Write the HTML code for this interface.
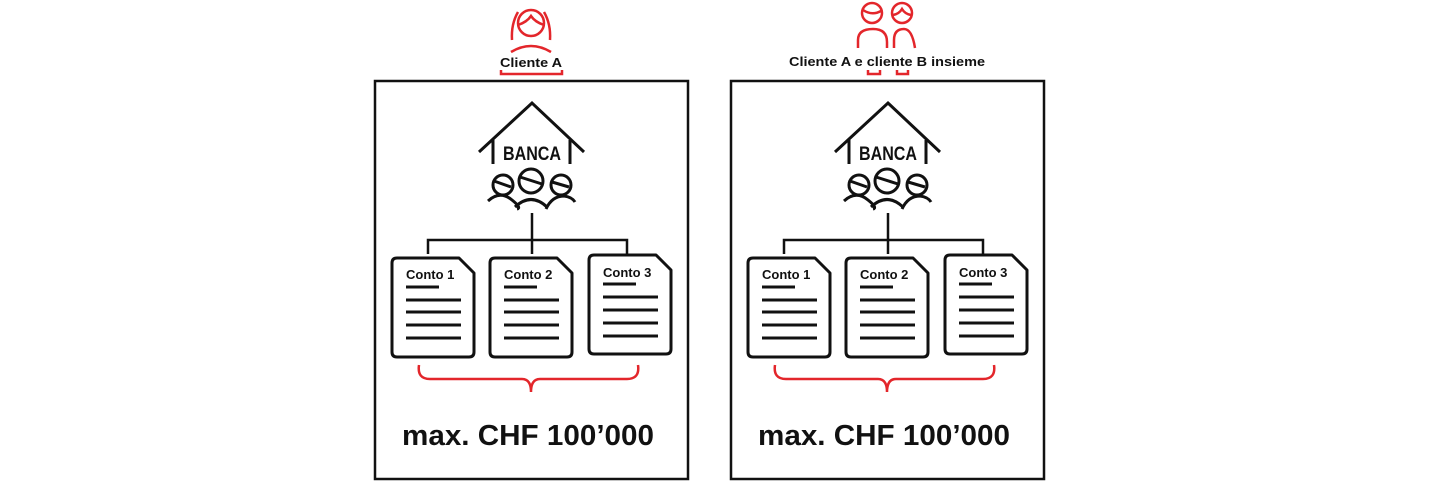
<!DOCTYPE html>
<html><head><meta charset="utf-8"><style>
html,body{margin:0;padding:0;background:#fff;}
svg{display:block;}
text{font-family:"Liberation Sans",sans-serif;font-weight:bold;fill:#111;}
</style></head><body>
<svg width="1440" height="482" viewBox="0 0 1440 482" xmlns="http://www.w3.org/2000/svg">
<defs>
<g id="panel">
  <rect x="375" y="81" width="313" height="398" fill="none" stroke="#111" stroke-width="2.5"/>
  <polyline points="479,152 532,103 584,152" fill="none" stroke="#111" stroke-width="3"/>
  <line x1="493" y1="140" x2="493" y2="164" stroke="#111" stroke-width="3"/>
  <line x1="570" y1="140" x2="570" y2="164" stroke="#111" stroke-width="3"/>
  <text x="532" y="160" font-size="19" text-anchor="middle" textLength="58" lengthAdjust="spacingAndGlyphs">BANCA</text>
  <g fill="none" stroke="#111" stroke-width="3">
    <circle cx="503" cy="185" r="10"/>
    <circle cx="531" cy="181" r="12"/>
    <circle cx="561" cy="185" r="10"/>
    <line x1="494" y1="181" x2="511" y2="187"/>
    <line x1="520" y1="177" x2="542" y2="184"/>
    <line x1="552" y1="182" x2="569" y2="187"/>
    <path d="M488,201 Q500,190 512,200 Q522,208 517,209"/>
    <path d="M515,207 Q531,192 547,207"/>
    <path d="M546,209 Q552,196 564,196 Q572,197 575,202"/>
  </g>
  <g stroke="#111" stroke-width="2.5" fill="none">
    <line x1="532" y1="213" x2="532" y2="254"/>
    <polyline points="428,254 428,240 627,240 627,254"/>
  </g>
  <g fill="none" stroke="#111" stroke-width="3" stroke-linejoin="round">
    <path d="M397,258 H459 L474,273 V352 Q474,357 469,357 H397 Q392,357 392,352 V263 Q392,258 397,258 Z"/>
    <path d="M495,258 H557 L572,273 V352 Q572,357 567,357 H495 Q490,357 490,352 V263 Q490,258 495,258 Z"/>
    <path d="M594,255 H656 L671,270 V349 Q671,354 666,354 H594 Q589,354 589,349 V260 Q589,255 594,255 Z"/>
  </g>
  <g stroke="#111" stroke-width="3">
    <line x1="406" y1="287" x2="439" y2="287"/><line x1="406" y1="300" x2="461" y2="300"/><line x1="406" y1="312" x2="461" y2="312"/><line x1="406" y1="325" x2="461" y2="325"/><line x1="406" y1="338" x2="461" y2="338"/>
    <line x1="504" y1="287" x2="537" y2="287"/><line x1="504" y1="300" x2="559" y2="300"/><line x1="504" y1="312" x2="559" y2="312"/><line x1="504" y1="325" x2="559" y2="325"/><line x1="504" y1="338" x2="559" y2="338"/>
    <line x1="603" y1="284" x2="636" y2="284"/><line x1="603" y1="297" x2="658" y2="297"/><line x1="603" y1="310" x2="658" y2="310"/><line x1="603" y1="323" x2="658" y2="323"/><line x1="603" y1="336" x2="658" y2="336"/>
  </g>
  <text x="406" y="279" font-size="13">Conto 1</text>
  <text x="504" y="279" font-size="13">Conto 2</text>
  <text x="603" y="277" font-size="13">Conto 3</text>
  <path d="M419,365 Q417,379 430,379 H522 Q531,379 531,392 Q531,379 540,379 H627 Q640,379 638,365" fill="none" stroke="#e3262b" stroke-width="2.5"/>
  <text x="528" y="445" font-size="29" text-anchor="middle" textLength="252" lengthAdjust="spacingAndGlyphs">max. CHF 100’000</text>
</g>
</defs>
<use href="#panel"/>
<use href="#panel" transform="translate(356,0)"/>

<g fill="none" stroke="#e3262b" stroke-width="2.5">
  <circle cx="531" cy="23" r="13"/>
  <path d="M518,25 Q527,22 531,16 Q535,22 544,25"/>
  <path d="M518,12 Q511,24 512,40 M544,12 Q551,24 550,40"/>
  <path d="M511,52 Q531,40 551,52"/>
  <polyline points="501,70 501,74 562,74 562,70"/>
</g>
<text x="531" y="67" font-size="13" text-anchor="middle" textLength="62" lengthAdjust="spacingAndGlyphs">Cliente A</text>

<g fill="none" stroke="#e3262b" stroke-width="2.5">
  <circle cx="872" cy="13" r="10"/>
  <path d="M863,10 Q872,16 881,11"/>
  <circle cx="902" cy="13" r="10"/>
  <path d="M893,15 Q899,14 902,9 Q905,14 911,15"/>
  <path d="M858,48 V40 Q858,29 873,29 Q887,29 887,42 V48"/>
  <path d="M894,48 V40 Q894,29 904,29 Q912,29 915,48"/>
  <polyline points="868,70 868,74 880,74 880,70"/>
  <polyline points="897,70 897,74 908,74 908,70"/>
</g>
<text x="887" y="66" font-size="13" text-anchor="middle" textLength="196" lengthAdjust="spacingAndGlyphs">Cliente A e cliente B insieme</text>
</svg>
</body></html>
